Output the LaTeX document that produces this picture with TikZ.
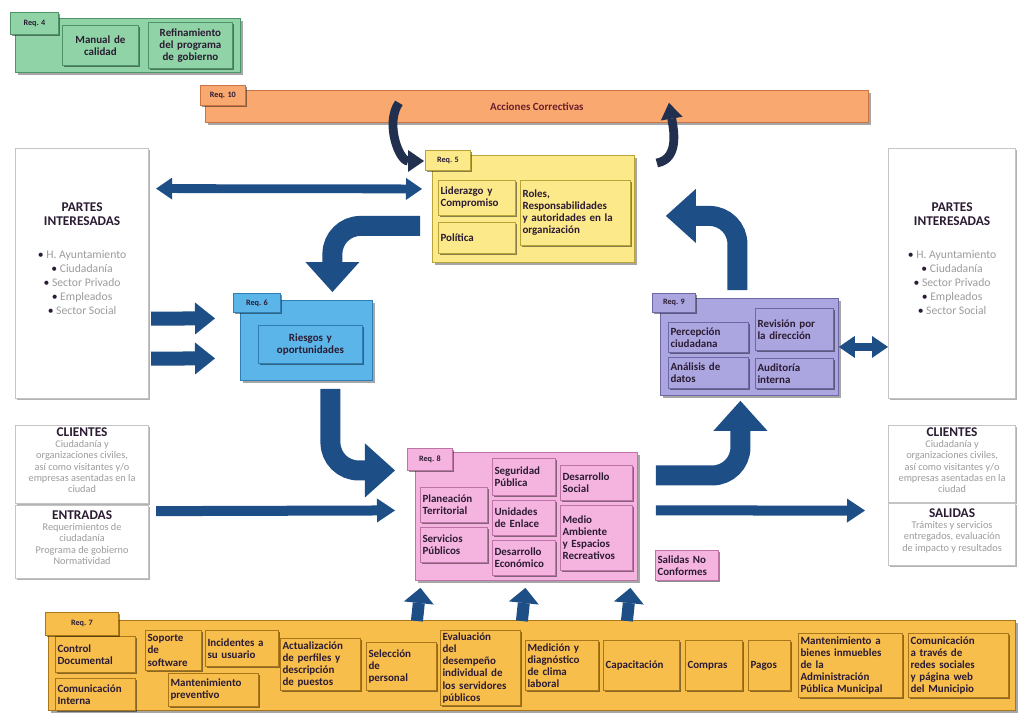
\documentclass[tikz,border=0pt]{standalone}
\usepackage{fontspec}
\setmainfont{Carlito}
\usepackage{tikz}
\usetikzlibrary{arrows.meta,positioning,calc,shadows}
\definecolor{MapGreen}{HTML}{8FD3A6}
\definecolor{MapGreenDark}{HTML}{4F9468}
\definecolor{MapSalmon}{HTML}{F9A870}
\definecolor{MapSalmonDark}{HTML}{C97445}
\definecolor{MapYellow}{HTML}{FCE98A}
\definecolor{MapYellowDark}{HTML}{B9A43A}
\definecolor{MapBlue}{HTML}{5CB5E8}
\definecolor{MapBlueDark}{HTML}{2F7FB5}
\definecolor{MapLilac}{HTML}{ABA6DF}
\definecolor{MapLilacDark}{HTML}{6D67A8}
\definecolor{MapPink}{HTML}{F5B4DF}
\definecolor{MapPinkDark}{HTML}{BD73A6}
\definecolor{MapGold}{HTML}{F7BE4C}
\definecolor{MapGoldDark}{HTML}{A9761A}
\definecolor{MapNavy}{HTML}{1D4F86}
\definecolor{MapInk}{HTML}{22304F}
\definecolor{MapText}{HTML}{2B1B33}
\definecolor{MapMaroon}{HTML}{6B1E2A}
\definecolor{MapGrey}{HTML}{9C9C9C}
\definecolor{MapFrame}{HTML}{C4C4C4}
\newcommand{\mapbullet}{\textcolor{MapText}{\textbullet}\ }
\tikzset{
    % Base box, placed by its top left corner
    basebox/.style={
        anchor=north west,
        line width=0.6pt,
        inner sep=1.5pt,
        text=MapText,
        font=\fontsize{7.8}{8.6}\selectfont\bfseries
    },
    % Size in pixels of the map
    boxsize/.code 2 args={%
        \pgfmathsetlengthmacro\mapw{#1*0.025cm}%
        \pgfmathsetlengthmacro\maph{#2*0.025cm}%
        \tikzset{minimum width=\mapw, minimum height=\maph}
    },
    % Size of a box with its text set flush left
    itemsize/.code 2 args={%
        \pgfmathsetlengthmacro\mapw{#1*0.025cm-3pt}%
        \pgfmathsetlengthmacro\maph{#2*0.025cm}%
        \tikzset{text width=\mapw, minimum height=\maph}
    },
    % Shadows
    panelshadow/.style={
        drop shadow={shadow xshift=1.5pt, shadow yshift=-1.5pt, fill=black, opacity=0.35}
    },
    itemshadow/.style={
        drop shadow={shadow xshift=1.2pt, shadow yshift=-1.2pt, fill=black, opacity=0.45}
    },
    % Requirement group
    panel/.style={
        basebox,
        draw=#1Dark,
        fill=#1,
        panelshadow
    },
    % Activity inside a group
    item/.style={
        basebox,
        draw=#1Dark,
        fill=#1,
        itemshadow,
        align=left
    },
    % Tab with the requirement number
    reqtab/.style={
        basebox,
        draw=#1Dark,
        fill=#1,
        itemshadow,
        align=center,
        font=\fontsize{5.8}{6.2}\selectfont\bfseries
    },
    % White side box
    whitebox/.style={
        basebox,
        draw=MapFrame,
        fill=white,
        line width=0.8pt,
        drop shadow={shadow xshift=1.2pt, shadow yshift=-0.8pt, fill=black, opacity=0.3}
    },
    % Texts of the side boxes
    headtext/.style={
        font=\fontsize{9.5}{10.5}\selectfont\bfseries,
        text=MapText,
        align=center,
        inner sep=0pt
    },
    greytext/.style={
        font=\fontsize{7.3}{8.1}\selectfont,
        text=MapGrey,
        align=center,
        inner sep=0pt
    },
    % Thick bent flow arrow
    flowarrow/.style={
        draw=MapNavy,
        line width=0.5cm,
        rounded corners=0.7cm,
        -{Triangle[length=0.75cm,width=1.35cm,line width=0pt]}
    },
    % Short feed arrow
    feedarrow/.style={
        draw=MapNavy,
        line width=0.35cm,
        -{Triangle[length=0.5cm,width=0.8cm,line width=0pt]}
    },
    % Short upward arrow
    liftarrow/.style={
        draw=MapNavy,
        line width=0.3cm,
        -{Triangle[length=0.38cm,width=0.75cm,line width=0pt]}
    },
    % Long flat arrow
    flatarrow/.style={
        draw=MapNavy,
        line width=0.25cm,
        -{Triangle[length=0.45cm,width=0.6cm,line width=0pt]}
    },
    % Flat two-headed arrow
    flatbiarrow/.style={
        draw=MapNavy,
        line width=0.22cm,
        {Triangle[length=0.4cm,width=0.55cm,line width=0pt]}-{Triangle[length=0.4cm,width=0.55cm,line width=0pt]}
    },
    % Curved arrow to and from the corrective actions
    looparrow/.style={
        draw=MapInk,
        line width=0.22cm,
        -{Triangle[length=0.4cm,width=0.55cm,line width=0pt]}
    }
}

\begin{document}
\begin{tikzpicture}[x=0.025cm, y=-0.025cm]
    \path[use as bounding box, fill=white] (0,0) rectangle (1020,713);

    % Req. 4
    \node[panel=MapGreen, boxsize={225}{54}] (req4) at (15,18) {};
    \node[item=MapGreen, itemsize={76}{40}, align=center] (manual) at (62,25) {Manual de\\calidad};
    \node[item=MapGreen, itemsize={84}{46}, align=center] (programa) at (148,22) {Refinamiento\\del programa\\de gobierno};
    \node[reqtab=MapGreen, boxsize={48}{22}] (tab4) at (10,12) {Req. 4};

    % Req. 10
    \node[panel=MapSalmon, boxsize={663}{32}, text=MapMaroon] (req10) at (205,90) {Acciones Correctivas};
    \node[reqtab=MapSalmon, boxsize={45}{20}] (tab10) at (200,85) {Req. 10};

    % Req. 5
    \node[panel=MapYellow, boxsize={202}{107}] (req5) at (432,155) {};
    \node[item=MapYellow, itemsize={77}{35}] (liderazgo) at (438,180) {Liderazgo y\\Compromiso};
    \node[item=MapYellow, itemsize={77}{31}] (politica) at (438,222) {Política};
    \node[item=MapYellow, itemsize={110}{65}] (roles) at (520,180) {Roles,\\Responsabilidades\\y autoridades en la\\organización};
    \node[reqtab=MapYellow, boxsize={45}{20}] (tab5) at (425,150) {Req. 5};

    % Req. 6
    \node[panel=MapBlue, boxsize={132}{80}] (req6) at (240,300) {};
    \node[item=MapBlue, itemsize={104}{38}, align=center] (riesgos) at (258,325) {Riesgos y\\oportunidades};
    \node[reqtab=MapBlue, boxsize={47}{19}] (tab6) at (233,293) {Req. 6};

    % Req. 9
    \node[panel=MapLilac, boxsize={178}{97}] (req9) at (660,298) {};
    \node[item=MapLilac, itemsize={80}{30}] (percepcion) at (668,322) {Percepción\\ciudadana};
    \node[item=MapLilac, itemsize={78}{42}] (revision) at (755,308) {Revisión por\\la dirección};
    \node[item=MapLilac, itemsize={80}{31}] (analisis) at (668,357) {Análisis de\\datos};
    \node[item=MapLilac, itemsize={78}{30}] (auditoria) at (755,358) {Auditoría\\interna};
    \node[reqtab=MapLilac, boxsize={43}{19}] (tab9) at (652,293) {Req. 9};

    % Req. 8
    \node[panel=MapPink, boxsize={222}{128}] (req8) at (415,452) {};
    \node[item=MapPink, itemsize={67}{35}] (planeacion) at (420,487) {Planeación\\Territorial};
    \node[item=MapPink, itemsize={67}{35}] (servicios) at (420,527) {Servicios\\Públicos};
    \node[item=MapPink, itemsize={63}{37}] (seguridad) at (492,458) {Seguridad\\Pública};
    \node[item=MapPink, itemsize={63}{35}] (unidades) at (492,500) {Unidades\\de Enlace};
    \node[item=MapPink, itemsize={63}{35}] (economico) at (492,540) {Desarrollo\\Económico};
    \node[item=MapPink, itemsize={72}{35}] (social) at (560,465) {Desarrollo\\Social};
    \node[item=MapPink, itemsize={72}{65}] (medio) at (560,505) {Medio\\Ambiente\\y Espacios\\Recreativos};
    \node[reqtab=MapPink, boxsize={45}{22}] (tab8) at (407,448) {Req. 8};
    \node[item=MapPink, itemsize={63}{30}] (noconformes) at (655,550) {Salidas No\\Conformes};

    % Req. 7
    \node[panel=MapGold, boxsize={967}{90}] (req7) at (48,620) {};
    \node[item=MapGold, itemsize={80}{36}] (control) at (55,636) {Control\\Documental};
    \node[item=MapGold, itemsize={80}{32}] (comunicacion) at (55,678) {Comunicación\\Interna};
    \node[item=MapGold, itemsize={56}{40}] (soporte) at (145,630) {Soporte\\de\\software};
    \node[item=MapGold, itemsize={73}{36}] (incidentes) at (205,630) {Incidentes a\\su usuario};
    \node[item=MapGold, itemsize={90}{33}] (preventivo) at (168,673) {Mantenimiento\\preventivo};
    \node[item=MapGold, itemsize={80}{52}] (perfiles) at (280,638) {Actualización\\de perfiles y\\descripción\\de puestos};
    \node[item=MapGold, itemsize={70}{48}] (seleccion) at (366,642) {Selección\\de\\personal};
    \node[item=MapGold, itemsize={80}{75}] (evaluacion) at (440,630) {Evaluación\\del\\desempeño\\individual de\\los servidores\\públicos};
    \node[item=MapGold, itemsize={73}{50}] (clima) at (525,640) {Medición y\\diagnóstico\\de clima\\laboral};
    \node[item=MapGold, itemsize={76}{50}] (capacitacion) at (603,640) {Capacitación};
    \node[item=MapGold, itemsize={57}{50}] (compras) at (685,640) {Compras};
    \node[item=MapGold, itemsize={42}{50}] (pagos) at (748,640) {Pagos};
    \node[item=MapGold, itemsize={104}{64}] (inmuebles) at (798,633) {Mantenimiento a\\bienes inmuebles\\de la\\Administración\\Pública Municipal};
    \node[item=MapGold, itemsize={100}{64}] (redes) at (908,633) {Comunicación\\a través de\\redes sociales\\y página web\\del Municipio};
    \node[reqtab=MapGold, boxsize={73}{23}] (tab7) at (45,612) {Req. 7};

    % Side boxes, left
    \node[whitebox, boxsize={133}{250}] (partesL) at (15,148) {};
    \node[headtext, anchor=north] (partesLtitle) at ($(partesL.north)+(0,54)$) {PARTES\\INTERESADAS};
    \node[greytext, font=\fontsize{8.3}{10}\selectfont, below=17pt of partesLtitle] (partesLlist) {\mapbullet H. Ayuntamiento\\\mapbullet Ciudadanía\\\mapbullet Sector Privado\\\mapbullet Empleados\\\mapbullet Sector Social};
    \node[whitebox, boxsize={133}{78}] (clientesL) at (15,425) {};
    \node[headtext, anchor=north] (clientesLtitle) at ($(clientesL.north)+(0,2)$) {CLIENTES};
    \node[greytext, below=2.5pt of clientesLtitle] (clientesLtext) {Ciudadanía y\\organizaciones civiles,\\así como visitantes y/o\\empresas asentadas en la\\ciudad};
    \node[whitebox, boxsize={133}{73}] (entradasL) at (15,505) {};
    \node[headtext, anchor=north] (entradasLtitle) at ($(entradasL.north)+(0,5)$) {ENTRADAS};
    \node[greytext, below=2.5pt of entradasLtitle] (entradasLtext) {Requerimientos de\\ciudadanía\\Programa de gobierno\\Normatividad};

    % Side boxes, right
    \node[whitebox, boxsize={127}{250}] (partesR) at (888,148) {};
    \node[headtext, anchor=north] (partesRtitle) at ($(partesR.north)+(0,54)$) {PARTES\\INTERESADAS};
    \node[greytext, font=\fontsize{8.3}{10}\selectfont, below=17pt of partesRtitle] (partesRlist) {\mapbullet H. Ayuntamiento\\\mapbullet Ciudadanía\\\mapbullet Sector Privado\\\mapbullet Empleados\\\mapbullet Sector Social};
    \node[whitebox, boxsize={127}{77}] (clientesR) at (888,425) {};
    \node[headtext, anchor=north] (clientesRtitle) at ($(clientesR.north)+(0,2)$) {CLIENTES};
    \node[greytext, below=2.5pt of clientesRtitle] (clientesRtext) {Ciudadanía y\\organizaciones civiles,\\así como visitantes y/o\\empresas asentadas en la\\ciudad};
    \node[whitebox, boxsize={127}{62}] (salidasR) at (888,503) {};
    \node[headtext, anchor=north] (salidasRtitle) at ($(salidasR.north)+(0,5)$) {SALIDAS};
    \node[greytext, below=2.5pt of salidasRtitle] (salidasRtext) {Trámites y servicios\\entregados, evaluación\\de impacto y resultados};

    % Flow between requirements
    \draw[flatbiarrow] ($(partesL.east)+(7,-85)$) -- ($(req5.west)+(-10,-20)$);
    \draw[flowarrow] ($(req5.west)+(-12,17)$) -| ($(req6.north)+(26,-8)$);
    \draw[feedarrow] ($(partesL.east)+(2,45)$) -- ($(req6.west)+(-25,-22)$);
    \draw[feedarrow] ($(partesL.east)+(2,85)$) -- ($(req6.west)+(-25,18)$);
    \draw[flowarrow] ($(req6.south)+(24,8)$) |- ($(req8.west)+(-20,-46)$);
    \draw[flatarrow] ($(clientesL.south east)+(7,7)$) -- ($(req8.west)+(-20,-6)$);
    \draw[flowarrow] ($(req8.east)+(18,-41)$) -| ($(req9.south)+(-9,5)$);
    \draw[flowarrow] ($(req9.north)+(-12,-8)$) |- ($(req5.east)+(31,7)$);
    \draw[flatbiarrow] (req9.east) -- (req9.east -| partesR.west);
    \draw[flatarrow] ($(req8.east)+(18,-6)$) -- ($(salidasR.west)+(-23,-24)$);

    % Support into operation
    \draw[liftarrow] ($(req7.north)+(-115,1)$) -- ($(req8.south)+(-106,7)$);
    \draw[liftarrow] ($(req7.north)+(-10,1)$) -- ($(req8.south)+(-1,7)$);
    \draw[liftarrow] ($(req7.north)+(95,1)$) -- ($(req8.south)+(104,7)$);

    % Corrective actions loop
    \draw[looparrow] ($(req10.south)+(-138,-20)$) to[out=235,in=180] ($(req5.north west)+(-8,6)$);
    \draw[looparrow] ($(req5.north east)+(22,8)$) to[out=10,in=-80] ($(req10.south)+(132,-20)$);
\end{tikzpicture}
\end{document}
